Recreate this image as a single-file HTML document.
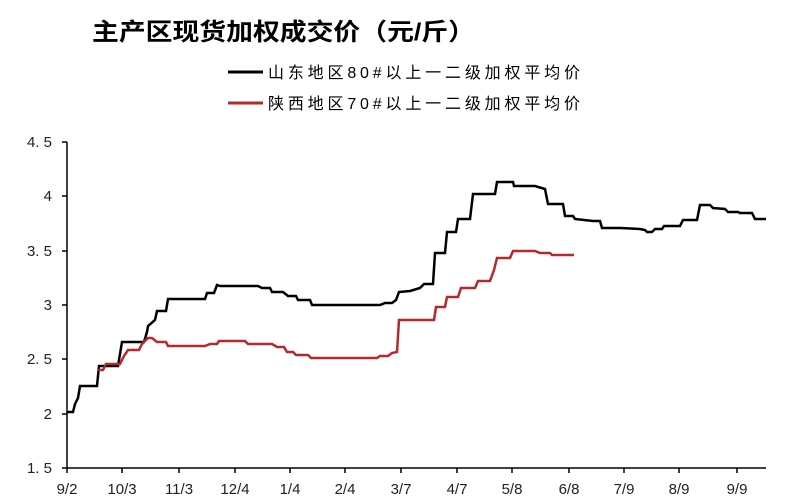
<!DOCTYPE html><html><head><meta charset="utf-8"><style>body{margin:0;background:#fff}svg{display:block}text{font-family:"Liberation Sans","Noto Sans CJK SC",sans-serif}</style></head><body>
<svg width="806" height="504" xmlns="http://www.w3.org/2000/svg">
<text x="92" y="40" font-size="24" font-weight="bold" fill="#000" textLength="383" lengthAdjust="spacingAndGlyphs">主产区现货加权成交价（元/斤）</text>
<line x1="228" y1="72" x2="263" y2="72" stroke="#000" stroke-width="3"/>
<text x="268" y="78" font-size="16" textLength="312">山东地区80#以上一二级加权平均价</text>
<line x1="228" y1="103" x2="263" y2="103" stroke="#b5292e" stroke-width="3"/>
<text x="268" y="109" font-size="16" textLength="312">陕西地区70#以上一二级加权平均价</text>
<g stroke="#000" stroke-width="1.5" fill="none">
<line x1="67" y1="142" x2="67" y2="468"/><line x1="67" y1="468" x2="766" y2="468"/>
<path d="M62 142H67M62 196H67M62 251H67M62 305H67M62 359H67M62 414H67M62 468H67"/>
<path d="M67 468v5M122 468v5M179 468v5M235 468v5M290 468v5M345 468v5M401 468v5M457 468v5M512 468v5M569 468v5M624 468v5M679 468v5M737 468v5"/>
</g>
<g font-size="15" fill="#222" text-anchor="end">
<text x="52" y="147">4. 5</text><text x="52" y="201">4</text><text x="52" y="256">3. 5</text><text x="52" y="310">3</text><text x="52" y="364">2. 5</text><text x="52" y="419">2</text><text x="52" y="473">1. 5</text></g>
<g font-size="15" fill="#222" text-anchor="middle">
<text x="67" y="494">9/2</text><text x="122" y="494">10/3</text><text x="179" y="494">11/3</text><text x="235" y="494">12/4</text><text x="290" y="494">1/4</text><text x="345" y="494">2/4</text><text x="401" y="494">3/7</text><text x="457" y="494">4/7</text><text x="512" y="494">5/8</text><text x="569" y="494">6/8</text><text x="624" y="494">7/9</text><text x="679" y="494">8/9</text><text x="737" y="494">9/9</text></g>
<path fill="none" stroke="#000" stroke-width="2.5" d="M67 412L73 412L75 404L78 398L80 386L97 386L99 366L118 366L122 342L144 342L147 332L148 326L155 320L157 311L166 311L168 299L205 299L207 293L214 293L217 285L220 286L258 286L262 288L270 288L272 292L283 292L288 296L296 296L298 300L310 300L312 305L380 305L385 303L392 303L396 300L399 292L410 291L420 288L424 284L433 284L435 253L445 253L447 232L456 232L458 219L470 219L473 194L495 194L497 182L513 182L514 186L535 186L545 189L548 204L563 204L565 216L573 216L575 219L593 221L600 221L602 228L620 228L640 229L645 230L647 232L652 232L655 229L662 229L664 226L680 226L683 220L697 220L700 205L710 205L713 208L725 209L728 212L738 212L740 213L752 213L755 219L766 219"/>
<path fill="none" stroke="#b5292e" stroke-width="2.5" d="M98 370L103 370L106 364L120 364L124 356L128 350L139 350L142 344L148 338L152 338L157 342L166 342L168 346L205 346L210 344L217 344L219 341L245 341L248 344L272 344L277 347L284 347L287 352L293 352L296 355L308 355L311 358L377 358L380 356L388 356L392 353L397 352L399 320L434 320L436 307L445 307L447 297L458 297L461 288L475 288L478 281L490 281L494 270L497 258L510 258L513 251L535 251L540 253L550 253L552 255L574 255"/>
</svg></body></html>
